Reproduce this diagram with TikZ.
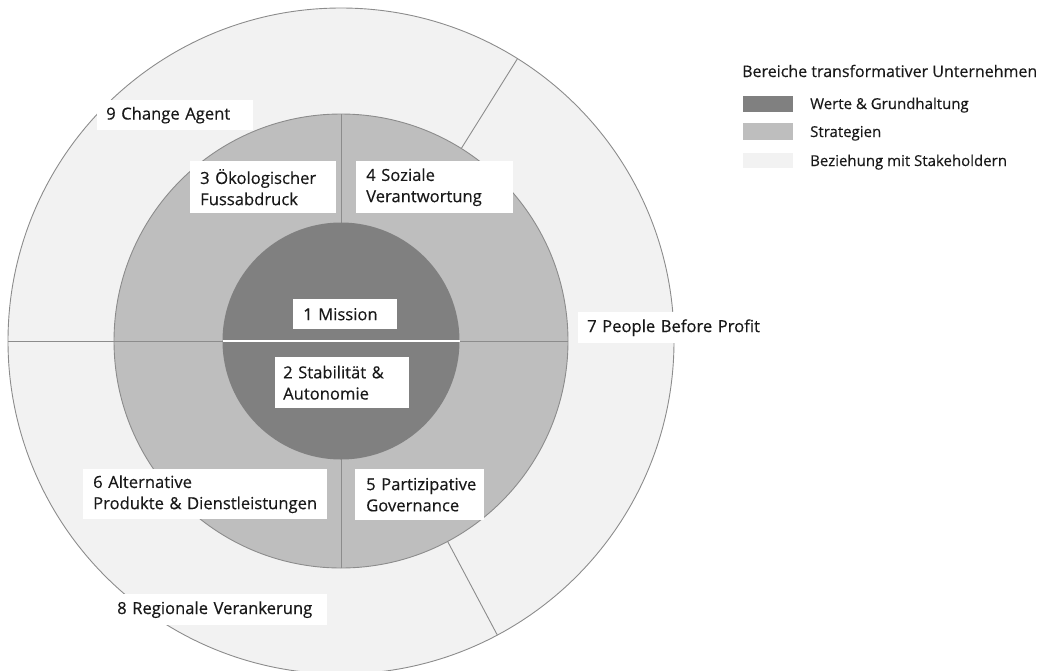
\documentclass[tikz,border=0pt]{standalone}
\usepackage{fontspec}
\setmainfont{Open Sans}[FakeBold=0.35]
\definecolor{werte}{HTML}{808080}
\definecolor{strat}{HTML}{BEBEBE}
\definecolor{bez}{HTML}{F2F2F2}
\definecolor{rim}{HTML}{8C8C8C}
\begin{document}
\begin{tikzpicture}[x=1pt,y=-1pt,
  lbl/.style={fill=white, anchor=north west, inner xsep=0pt, inner ysep=0pt, align=left,
    text=black!90, font=\fontsize{16.6}{21.2}\selectfont},
  rimline/.style={draw=rim, line width=0.9pt},
  swatch/.style={draw=none},
  legitem/.style={anchor=base west, inner sep=0pt, text=black!90, font=\fontsize{15}{18}\selectfont},
]
\useasboundingbox (0,0) rectangle (1052,670);
\coordinate (c) at (341,341);
% outer ring
\fill[bez] (c) circle[radius=333];
\draw[rimline] (c) circle[radius=333];
\coordinate (d1i) at (461.3,148.5); \coordinate (d1o) at (517.5,58.6);
\coordinate (d2i) at (447.6,541.4); \coordinate (d2o) at (497.3,635.0);
\coordinate (d3i) at (114,341);     \coordinate (d3o) at (8,341);
\draw[rimline] (d1i) -- (d1o);
\draw[rimline] (d2i) -- (d2o);
\draw[rimline] (d3i) -- (d3o);
% middle ring
\fill[strat] (c) circle[radius=227];
\draw[rimline] (c) circle[radius=227];
\coordinate (vt) at (341,114); \coordinate (vb) at (341,568);
\coordinate (hl) at (114,341); \coordinate (hr) at (568,341);
\draw[rimline] (vt) -- (vb);
\draw[rimline] (hl) -- (hr);
% inner circle
\fill[werte] (c) circle[radius=118.5];
\coordinate (wl) at (222.5,341); \coordinate (wr) at (459.5,341);
\draw[white, line width=2.5pt] (wl) -- (wr);
% labels
\node[lbl, minimum width=156, minimum height=30, text width=156] (l9) at (97,100) {\hspace*{9pt}9 Change Agent};
\node[lbl, minimum width=146, minimum height=52, text width=146] (l3) at (190,161) {\hspace*{10pt}3 Ökologischer\\\hspace*{10pt}Fussabdruck};
\node[lbl, minimum width=157, minimum height=52, text width=157] (l4) at (356,161) {\hspace*{10pt}4 Soziale\\\hspace*{10pt}Verantwortung};
\node[lbl, minimum width=104, minimum height=30, text width=104] (l1) at (293,299) {\hspace*{10pt}1 Mission};
\node[lbl, minimum width=134, minimum height=51, text width=134] (l2) at (275,357) {\hspace*{8pt}2 Stabilität \&\\\hspace*{8pt}Autonomie};
\node[lbl, minimum width=186, minimum height=31, text width=186] (l7) at (578,312) {\hspace*{9pt}7 People Before Profit};
\node[lbl, minimum width=244, minimum height=50, text width=244] (l6) at (83,469) {\hspace*{10pt}6 Alternative\\\hspace*{10pt}Produkte \& Dienstleistungen};
\node[lbl, minimum width=129, minimum height=51, text width=129] (l5) at (355,469) {\hspace*{11pt}5 Partizipative\\\hspace*{11pt}Governance};
\node[lbl, minimum width=219, minimum height=31, text width=219] (l8) at (108,594) {\hspace*{9pt}8 Regionale Verankerung};
% legend
\node[anchor=base west, inner sep=0pt, text=black!90, font=\fontsize{16}{19}\selectfont] (lt) at (742,77) {Bereiche transformativer Unternehmen};
\node[swatch, fill=werte, anchor=north west, minimum width=50, minimum height=16, inner sep=0pt] (s1) at (743,96) {};
\node[swatch, fill=strat, anchor=north west, minimum width=50, minimum height=17, inner sep=0pt] (s2) at (743,123) {};
\node[swatch, fill=bez, anchor=north west, minimum width=50, minimum height=15, inner sep=0pt] (s3) at (743,153) {};
\node[legitem] (t1) at (810,109) {Werte \& Grundhaltung};
\node[legitem] (t2) at (810,137) {Strategien};
\node[legitem] (t3) at (810,166) {Beziehung mit Stakeholdern};
\end{tikzpicture}
\end{document}
